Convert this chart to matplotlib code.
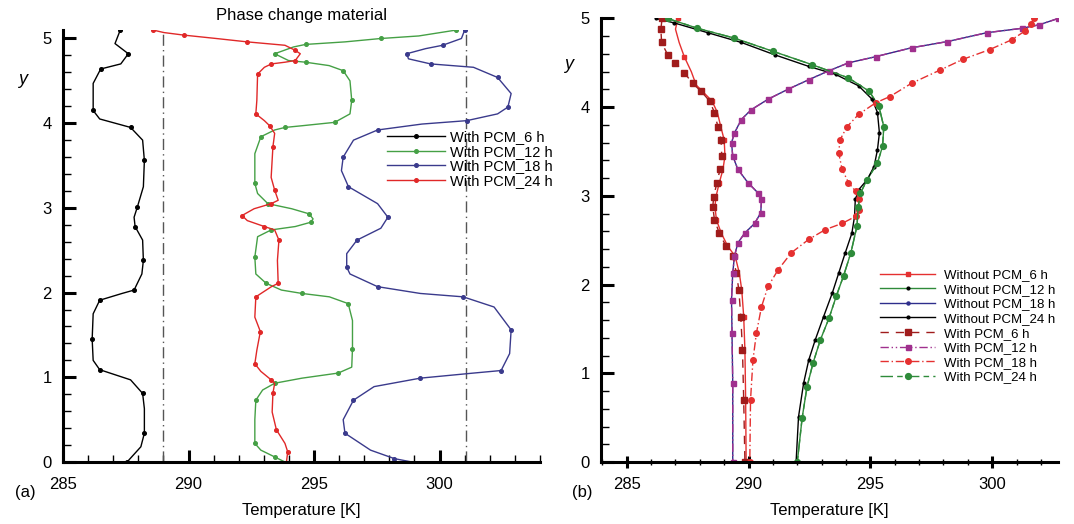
import matplotlib
matplotlib.use("Agg")
import matplotlib.pyplot as plt
from matplotlib.ticker import MultipleLocator

plt.rcParams['font.family'] = ['Liberation Sans', 'DejaVu Sans']

# ---------------- panel (a): with PCM ----------------
pcm6_T = [287.28, 287.07, 287.6, 287.3, 286.5, 286.2, 286.2, 286.46, 287.69, 288.17,
          288.24, 288.2, 287.96, 287.83, 287.87, 288.17, 288.2, 288.14, 287.83, 287.35,
          286.46, 286.2, 286.16, 286.2, 286.46, 287.69, 288.17, 288.24, 288.24, 288.1, 287.55]
pcm6_y = [5.1, 4.94, 4.82, 4.7, 4.64, 4.47, 4.15, 4.05, 3.95, 3.8,
          3.56, 3.25, 3.01, 2.89, 2.78, 2.62, 2.38, 2.22, 2.03, 1.99,
          1.91, 1.75, 1.45, 1.2, 1.09, 0.97, 0.81, 0.63, 0.34, 0.18, 0.0]

pcm12_T = [300.67, 299.17, 297.66, 296.23, 294.66, 294.18, 293.43, 293.98, 294.66, 295.6,
           296.16, 296.43, 296.5, 296.43, 295.82, 294.52, 293.84, 293.43, 292.88, 292.64,
           292.64, 292.75, 293.16, 294.11, 294.8, 294.96, 294.86, 294.25, 293.29, 292.75,
           292.64, 292.68, 293.09, 293.7, 294.52, 295.61, 296.36, 296.53, 296.53, 296.5,
           295.96, 294.52, 293.43, 292.95, 292.68, 292.64, 292.64, 292.88, 293.43, 293.84]
pcm12_y = [5.1, 5.03, 5.0, 4.96, 4.93, 4.9, 4.82, 4.74, 4.72, 4.68,
           4.62, 4.5, 4.27, 4.11, 4.01, 3.97, 3.95, 3.92, 3.84, 3.64,
           3.29, 3.17, 3.05, 2.99, 2.93, 2.87, 2.83, 2.78, 2.74, 2.66,
           2.42, 2.22, 2.11, 2.03, 1.99, 1.95, 1.87, 1.67, 1.34, 1.12,
           1.05, 0.99, 0.93, 0.85, 0.73, 0.5, 0.22, 0.14, 0.06, 0.0]

pcm18_T = [301.0, 300.87, 300.12, 299.44, 298.69, 298.76, 299.64, 301.35, 302.31, 302.85,
           302.72, 302.31, 301.08, 299.3, 297.53, 296.57, 296.16, 296.09, 296.37, 297.53,
           297.94, 297.66, 296.71, 296.3, 296.3, 296.43, 297.53, 299.23, 300.94, 302.17,
           302.85, 302.79, 302.45, 301.35, 299.23, 297.39, 296.57, 296.16, 296.23, 297.25,
           298.2, 298.9]
pcm18_y = [5.1, 5.0, 4.92, 4.88, 4.82, 4.76, 4.70, 4.66, 4.54, 4.35,
           4.19, 4.11, 4.03, 3.99, 3.92, 3.80, 3.60, 3.44, 3.25, 3.05,
           2.89, 2.76, 2.62, 2.46, 2.3, 2.22, 2.07, 1.99, 1.95, 1.83,
           1.56, 1.28, 1.08, 1.05, 0.99, 0.89, 0.73, 0.5, 0.34, 0.14,
           0.04, 0.0]

pcm24_T = [288.58, 289.02, 289.81, 291.1, 292.34, 293.84, 294.25, 294.45, 294.25, 293.84,
           293.3, 293.02, 292.75, 292.72, 292.68, 293.02, 293.23, 293.43, 293.36, 293.29,
           293.43, 293.57, 293.29, 292.61, 292.13, 292.34, 293.02, 293.43, 293.6, 293.54,
           293.57, 293.3, 292.68, 292.64, 292.86, 292.72, 292.64, 292.88, 293.29, 293.43,
           293.36, 293.33, 293.5, 293.84, 293.95, 293.9]
pcm24_y = [5.1, 5.07, 5.04, 5.0, 4.96, 4.92, 4.86, 4.82, 4.74, 4.72,
           4.7, 4.66, 4.58, 4.27, 4.11, 4.03, 3.97, 3.88, 3.72, 3.36,
           3.21, 3.09, 3.05, 2.99, 2.91, 2.85, 2.78, 2.74, 2.62, 2.38,
           2.11, 2.07, 1.95, 1.71, 1.54, 1.32, 1.16, 1.07, 0.97, 0.93,
           0.81, 0.59, 0.38, 0.22, 0.12, 0.0]

pcm_melt = [289.0, 301.05]  # dash-dot lines

# ---------------- panel (b): with / without PCM ----------------
curveA_T = [286.45, 286.4, 286.43, 286.68, 287.0, 287.36, 287.7, 288.05, 288.4, 288.6,
            288.74, 288.87, 288.9, 288.83, 288.7, 288.57, 288.53, 288.6, 288.8, 289.08,
            289.35, 289.5, 289.6, 289.68, 289.75, 289.8, 289.85]
curveA_y = [5.0, 4.88, 4.73, 4.59, 4.5, 4.39, 4.27, 4.18, 4.07, 3.94,
            3.78, 3.63, 3.45, 3.3, 3.15, 2.99, 2.88, 2.73, 2.58, 2.43,
            2.32, 2.13, 1.94, 1.64, 1.26, 0.7, 0.0]

curveA2_T = [287.1, 287.0, 287.15, 287.36, 287.65, 287.85, 288.5, 288.72, 288.86, 289.0,
             289.03, 288.95, 288.8, 288.66, 288.62, 288.68, 288.88, 289.15, 289.45, 289.62,
             289.72, 289.8, 289.85, 289.88, 289.9]
curveA2_y = [5.0, 4.88, 4.73, 4.57, 4.4, 4.25, 4.07, 3.94, 3.78, 3.63,
             3.45, 3.3, 3.15, 2.99, 2.88, 2.73, 2.58, 2.43, 2.32, 2.13,
             1.94, 1.64, 1.26, 0.7, 0.0]

curveB_T = [302.7, 301.94, 301.24, 299.78, 298.16, 296.69, 295.22, 294.1, 293.29, 292.47,
            291.6, 290.8, 290.1, 289.7, 289.42, 289.3, 289.35, 289.56, 289.97, 290.4,
            290.53, 290.5, 290.25, 289.84, 289.56, 289.42, 289.35, 289.3, 289.32, 289.35, 289.35]
curveB_y = [5.0, 4.93, 4.89, 4.84, 4.74, 4.67, 4.57, 4.5, 4.41, 4.31,
            4.2, 4.09, 3.97, 3.86, 3.71, 3.6, 3.45, 3.3, 3.15, 3.03,
            2.96, 2.81, 2.69, 2.58, 2.47, 2.32, 2.13, 1.83, 1.45, 0.89, 0.0]

curveC_T = [301.7, 301.6, 301.35, 300.8, 299.9, 298.8, 297.87, 296.69, 295.8, 295.22,
            294.52, 294.04, 293.75, 293.7, 293.84, 294.1, 294.4, 294.52, 294.52, 294.4,
            293.84, 293.15, 292.47, 291.76, 291.22, 290.8, 290.53, 290.32, 290.18, 290.08, 290.05]
curveC_y = [5.0, 4.94, 4.86, 4.76, 4.65, 4.54, 4.42, 4.27, 4.12, 4.05,
            3.92, 3.78, 3.63, 3.48, 3.3, 3.15, 3.05, 2.96, 2.84, 2.77,
            2.69, 2.62, 2.51, 2.36, 2.17, 1.98, 1.75, 1.45, 1.15, 0.7, 0.0]

curveD_T = [286.2, 286.95, 288.32, 289.7, 291.08, 292.47, 293.57, 294.52, 295.07, 295.29,
            295.37, 295.29, 295.15, 294.86, 294.52, 294.38, 294.35, 294.24, 293.97, 293.7,
            293.43, 293.08, 292.74, 292.47, 292.26, 292.05, 291.95]
curveD_y = [5.0, 4.95, 4.84, 4.73, 4.59, 4.46, 4.37, 4.24, 4.09, 3.94,
            3.71, 3.52, 3.33, 3.18, 3.07, 2.96, 2.77, 2.58, 2.36, 2.13,
            1.9, 1.64, 1.38, 1.15, 0.89, 0.51, 0.0]

curveD2_T = [286.68, 287.9, 289.4, 291.0, 292.6, 294.1, 294.95, 295.35, 295.55, 295.5,
             295.29, 294.86, 294.59, 294.5, 294.45, 294.2, 293.9, 293.6, 293.3, 292.95,
             292.65, 292.4, 292.2, 292.0]
curveD2_y = [5.0, 4.89, 4.78, 4.63, 4.48, 4.33, 4.18, 4.01, 3.78, 3.56,
             3.37, 3.18, 3.03, 2.88, 2.66, 2.36, 2.1, 1.87, 1.62, 1.38,
             1.12, 0.85, 0.5, 0.0]

fig = plt.figure(figsize=(10.74, 5.24), dpi=100)
ax1 = fig.add_axes([0.0587, 0.1183, 0.4441, 0.8244])
ax2 = fig.add_axes([0.5593, 0.1183, 0.4258, 0.8464])


def style_axes(ax, ylim, xlim, xdir, xpad):
    ax.set_xlim(*xlim)
    ax.set_ylim(*ylim)
    for s in ["top", "right"]:
        ax.spines[s].set_visible(False)
    for s in ["left", "bottom"]:
        ax.spines[s].set_linewidth(2.2)
    ax.xaxis.set_major_locator(MultipleLocator(5))
    ax.xaxis.set_minor_locator(MultipleLocator(1))
    ax.yaxis.set_major_locator(MultipleLocator(1))
    ax.yaxis.set_minor_locator(MultipleLocator(0.2))
    ax.tick_params(axis="x", which="major", direction=xdir, length=9, width=2.2, labelsize=12, pad=xpad)
    ax.tick_params(axis="x", which="minor", direction=xdir, length=5, width=1)
    ax.tick_params(axis="y", which="major", direction="in", length=9, width=2.2, labelsize=12, pad=8)
    ax.tick_params(axis="y", which="minor", direction="in", length=6, width=1)
    ax.set_xlabel("Temperature [K]", fontsize=12, labelpad=8)


# panel (a)
style_axes(ax1, (0, 5.1), (285, 304), "in", 11)
for xv in pcm_melt:
    ax1.plot([xv, xv], [0, 5.1], color="#555555", lw=1.0, ls=(0, (8, 3, 1, 3)))
ms_a = dict(marker="o", markersize=2.6, markevery=2, lw=1.0)
ax1.plot(pcm6_T, pcm6_y, color="black", label="With PCM_6 h", **ms_a)
ax1.plot(pcm12_T, pcm12_y, color="#45a045", label="With PCM_12 h", **ms_a)
ax1.plot(pcm18_T, pcm18_y, color="#3a3a8c", label="With PCM_18 h", **ms_a)
ax1.plot(pcm24_T, pcm24_y, color="#e02828", label="With PCM_24 h", **ms_a)
ax1.set_title("Phase change material", fontsize=12, pad=7)
ax1.text(-0.085, 4.52, "y", transform=ax1.get_yaxis_transform(), fontsize=13,
         style="italic", ha="center", va="center")
fig.legend(handles=ax1.get_lines()[2:], loc="upper left",
           bbox_to_anchor=(387 / 1074, 1 - 130 / 524), frameon=False, fontsize=10.5,
           handlelength=4.0, handletextpad=0.3, labelspacing=0.05, borderpad=0,
           borderaxespad=0)

# panel (b)
style_axes(ax2, (0, 5), (283.93, 302.7), "inout", 6.5)
l1, = ax2.plot(curveA2_T, curveA2_y, color="#e53030", lw=1.0, marker="s", markersize=2.5,
               markevery=3, label="Without PCM_6 h")
l2, = ax2.plot(curveD2_T, curveD2_y, color="#2f8a3a", lw=1.0, marker="o", markersize=2,
               mfc="black", mec="black", label="Without PCM_12 h")
l3, = ax2.plot(curveB_T, curveB_y, color="#2e2e8c", lw=1.0, marker="o", markersize=2.2,
               label="Without PCM_18 h")
l4, = ax2.plot(curveD_T, curveD_y, color="black", lw=1.0, marker="o", markersize=2,
               label="Without PCM_24 h")
l5, = ax2.plot(curveA_T, curveA_y, color="#a01c1c", lw=1.0, ls=(0, (6, 5)), marker="s",
               markersize=4, label="With PCM_6 h")
l6, = ax2.plot(curveB_T, curveB_y, color="#a0308e", lw=1.0, ls=(0, (6, 2, 1, 2, 1, 2)),
               marker="s", markersize=3.6, label="With PCM_12 h")
l7, = ax2.plot(curveC_T, curveC_y, color="#e53030", lw=1.0, ls=(0, (6, 2, 1, 2)),
               marker="o", markersize=4, label="With PCM_18 h")
l8, = ax2.plot(curveD2_T, curveD2_y, color="#2e8b3a", lw=1.0, ls=(0, (9, 3, 4, 3)),
               marker="o", markersize=4.2, label="With PCM_24 h")
ax2.text(-0.07, 4.48, "y", transform=ax2.get_yaxis_transform(), fontsize=13,
         style="italic", ha="center", va="center")
fig.legend(handles=[l1, l2, l3, l4, l5, l6, l7, l8], loc="upper left",
           bbox_to_anchor=(880 / 1074, 1 - 269 / 524), frameon=False, fontsize=9.5,
           handlelength=4.2, handletextpad=0.68, labelspacing=0.18, borderpad=0,
           borderaxespad=0)

fig.text(15 / 1074, 1 - 492 / 524, "(a)", fontsize=12, ha="left", va="center")
fig.text(572 / 1074, 1 - 492 / 524, "(b)", fontsize=12, ha="left", va="center")

fig.savefig("out.png", dpi=100)
